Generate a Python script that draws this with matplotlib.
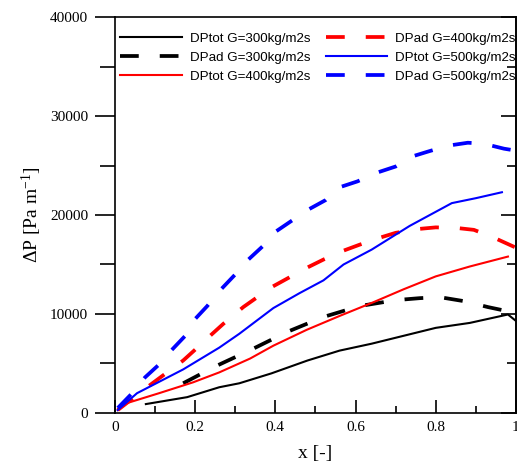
import matplotlib
matplotlib.use("Agg")
from matplotlib import pyplot as plt
import numpy as np

plt.rcParams['font.family'] = ['Liberation Serif', 'DejaVu Serif']
plt.rcParams['mathtext.default'] = 'regular'

x_tot300 = [0.077, 0.18, 0.26, 0.31, 0.39, 0.48, 0.56, 0.64, 0.72, 0.80, 0.885, 0.98, 1.0]
y_tot300 = [900, 1600, 2600, 3000, 4000, 5300, 6300, 7000, 7800, 8600, 9100, 9950, 9300]

x_ad300 = [0.17, 0.25, 0.34, 0.43, 0.52, 0.61, 0.70, 0.76, 0.81, 0.87, 0.93, 0.965, 1.0]
y_ad300 = [3000, 4700, 6400, 8200, 9700, 10800, 11400, 11600, 11700, 11300, 10700, 10400, 9100]

x_tot400 = [0.007, 0.03, 0.11, 0.195, 0.26, 0.337, 0.395, 0.478, 0.56, 0.645, 0.72, 0.80, 0.885, 0.98]
y_tot400 = [300, 1000, 2000, 3100, 4100, 5500, 6800, 8400, 9800, 11200, 12500, 13800, 14800, 15800]

x_ad400 = [0.007, 0.08, 0.12, 0.17, 0.20, 0.24, 0.27, 0.32, 0.39, 0.435, 0.48, 0.52, 0.57, 0.61,
           0.66, 0.70, 0.76, 0.80, 0.85, 0.895, 0.94, 1.0]
y_ad400 = [300, 2600, 3800, 5300, 6400, 7900, 9000, 10700, 12700, 13700, 14700, 15500, 16400, 17000,
           17700, 18200, 18600, 18750, 18700, 18500, 17800, 16700]

x_tot500 = [0.007, 0.055, 0.17, 0.26, 0.31, 0.395, 0.46, 0.52, 0.57, 0.64, 0.735, 0.84, 0.90, 0.965]
y_tot500 = [300, 2000, 4400, 6600, 8000, 10600, 12100, 13400, 15000, 16500, 18900, 21200, 21700, 22300]

x_ad500 = [0.007, 0.043, 0.075, 0.11, 0.14, 0.18, 0.20, 0.23, 0.26, 0.30, 0.33, 0.37, 0.40, 0.44,
           0.48, 0.525, 0.56, 0.605, 0.655, 0.70, 0.74, 0.78, 0.83, 0.88, 0.92, 0.97, 1.0]
y_ad500 = [500, 2000, 3600, 4900, 6300, 8000, 9500, 10800, 12300, 14000, 15400, 16900, 18300, 19400,
           20500, 21500, 22800, 23400, 24300, 24900, 25900, 26400, 27000, 27300, 27200, 26700, 26500]

fig = plt.figure(figsize=(5.17, 4.70), dpi=100)
ax = fig.add_axes([0.2224, 0.1213, 0.7756, 0.8425])

lw_s = 1.5
lw_d = 2.7
dash = (5.0, 5.6)
ax.plot(x_tot300, y_tot300, color='black', lw=lw_s, label='DPtot G=300kg/m2s')
ax.plot(x_ad300, y_ad300, color='black', lw=lw_d, dashes=dash, label='DPad G=300kg/m2s')
ax.plot(x_tot400, y_tot400, color='red', lw=lw_s, label='DPtot G=400kg/m2s')
ax.plot(x_ad400, y_ad400, color='red', lw=lw_d, dashes=dash, label='DPad G=400kg/m2s')
ax.plot(x_tot500, y_tot500, color='blue', lw=lw_s, label='DPtot G=500kg/m2s')
ax.plot(x_ad500, y_ad500, color='blue', lw=lw_d, dashes=dash, label='DPad G=500kg/m2s')

ax.set_xlim(0, 1)
ax.set_ylim(0, 40000)
ax.set_xticks(np.arange(0, 1.01, 0.2))
ax.set_xticklabels(['0', '0.2', '0.4', '0.6', '0.8', '1'])
ax.set_xticks(np.arange(0.1, 1.0, 0.2), minor=True)
ax.set_yticks(np.arange(0, 40001, 10000))
ax.set_yticks(np.arange(5000, 40000, 10000), minor=True)

for s in ax.spines.values():
    s.set_linewidth(1.2)

ax.tick_params(axis='x', which='major', direction='in', length=9.5, width=1.2, top=False,
               labelsize=11, pad=6)
ax.tick_params(axis='x', which='minor', direction='in', length=5, width=1.2, top=False)
ax.tick_params(axis='y', which='major', direction='out', length=14.4, width=1.2, right=False,
               labelsize=11, pad=5)
ax.tick_params(axis='y', which='minor', direction='out', length=10.8, width=1.2, right=False)

sec = ax.secondary_yaxis('right')
sec.set_yticks(np.arange(0, 40001, 10000))
sec.set_yticks(np.arange(5000, 40000, 10000), minor=True)
sec.tick_params(which='major', direction='in', length=11, width=1.2, labelright=False)
sec.tick_params(which='minor', direction='in', length=6.5, width=1.2)
sec.spines['right'].set_linewidth(1.2)

ax.set_xlabel('x [-]', fontsize=14, labelpad=8)
ax.set_ylabel('ΔP [Pa m$^{-1}$]', fontsize=14, labelpad=4)

ax.legend(ncol=2, loc='upper left', frameon=False, handlelength=4.6,
          prop={'family': 'Liberation Sans', 'size': 9.6},
          columnspacing=1.2, handletextpad=0.6, labelspacing=0.5,
          borderaxespad=0.0, bbox_to_anchor=(0.0, 0.975))

fig.savefig('out.png', dpi=100)
